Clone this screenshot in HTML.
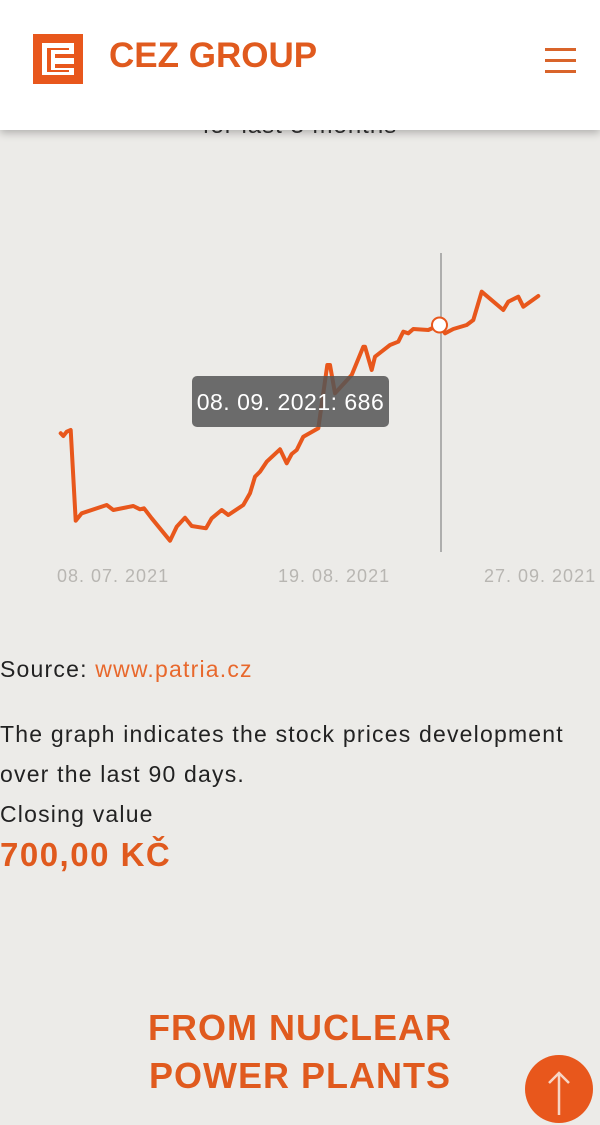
<!DOCTYPE html>
<html><head><meta charset="utf-8"><style>
html,body{margin:0;padding:0;width:600px;height:1111px;overflow:hidden;background:#ecebe8;font-family:"Liberation Sans",sans-serif;}
.a{position:absolute;white-space:nowrap;}
.t{font-size:23px;color:#222;letter-spacing:1.2px;}
</style></head><body>
<div class="a" style="left:0;top:112px;width:600px;text-align:center;font-size:24px;color:#333;letter-spacing:1px;">for last 3 months</div>
<div class="a" style="left:0;top:0;width:600px;height:130px;background:#fff;box-shadow:0 3px 8px rgba(0,0,0,0.25);"></div>
<svg class="a" style="left:33px;top:34px" width="50" height="50" viewBox="0 0 50 50">
<rect width="50" height="50" fill="#e8571c"/>
<path d="M9 9H41V20H22V24H41V30H22V34H41V41H9Z" fill="#fff"/>
<path d="M14 14H36V16H18V36H36V38H14Z" fill="#e8571c"/>
</svg>
<div class="a" style="left:109px;top:36px;font-size:35px;font-weight:bold;color:#e05a1e;">CEZ GROUP</div>
<div class="a" style="left:545px;top:48px;width:31px;height:3px;background:#d9642a;"></div>
<div class="a" style="left:545px;top:59px;width:31px;height:3px;background:#d9642a;"></div>
<div class="a" style="left:545px;top:70px;width:31px;height:3px;background:#d9642a;"></div>

<svg class="a" style="left:0;top:0" width="600" height="600">
<line x1="441" y1="253" x2="441" y2="552" stroke="#999" stroke-width="1.5"/>
<polyline fill="none" stroke="#e8571c" stroke-width="4" stroke-linejoin="round" stroke-linecap="round" points="60.7,433.3 63.3,436 66.7,431.7 70.7,430 75.7,520.7 81.7,513.3 106.7,505 113.3,510 133.3,506 140,509.3 144,508.3 151.7,518.3 170,540.7 176.7,526.7 185,517.7 191.7,526 206,528.3 211.7,518.3 221.7,510 228.3,515 243.3,505 250,493.3 255,476.7 260,471.7 266.7,461.7 280,449.3 286.7,463.3 291.7,454 296.7,450 303.3,436.7 318.3,428.3 327.3,365 330,365 335,393.3 351.7,375 363.3,346.7 365,346.7 371.7,370 375,356.7 390,345 398.3,341.7 403.3,331.7 408.3,333.3 413.3,329 428.3,330 439.3,325 445,333.3 453.3,329 466.7,325 473.3,320 481.7,291.7 503.3,310 508.3,301.7 518.3,296.7 523.3,306.7 538.3,296"/>
<circle cx="439.5" cy="325" r="7.5" fill="#fff" stroke="#e8571c" stroke-width="2"/>
<rect x="192" y="376" width="197" height="51" rx="5" fill="#555" fill-opacity="0.85"/>
<text x="290.5" y="410" text-anchor="middle" font-family="Liberation Sans, sans-serif" font-size="23" letter-spacing="0.5" fill="#fff">08. 09. 2021: 686</text>
<g font-family="Liberation Sans, sans-serif" font-size="18" letter-spacing="1" fill="#b8b6b2">
<text x="57" y="582">08. 07. 2021</text>
<text x="278" y="582">19. 08. 2021</text>
<text x="484" y="582">27. 09. 2021</text>
</g>
</svg>

<div class="a t" style="left:0;top:656px;">Source: <span style="color:#e8682c">www.patria.cz</span></div>
<div class="a t" style="left:0;top:721px;">The graph indicates the stock prices development</div>
<div class="a t" style="left:0;top:761px;">over the last 90 days.</div>
<div class="a t" style="left:0;top:801px;">Closing value</div>
<div class="a" style="left:0;top:836px;font-size:33px;font-weight:bold;color:#e05a1e;letter-spacing:1.5px;">700,00 KČ</div>

<div class="a" style="left:0;top:1004px;width:600px;text-align:center;font-size:36px;font-weight:bold;color:#e05a1e;letter-spacing:1px;line-height:48px;">FROM NUCLEAR<br>POWER PLANTS</div>
<svg class="a" style="left:525px;top:1055px" width="70" height="70">
<circle cx="34" cy="34" r="34" fill="#e8571c"/>
<path d="M34 18V60M24 28L34 18L44 28" stroke="#f6d5c4" stroke-width="2.5" fill="none"/>
</svg>
</body></html>
